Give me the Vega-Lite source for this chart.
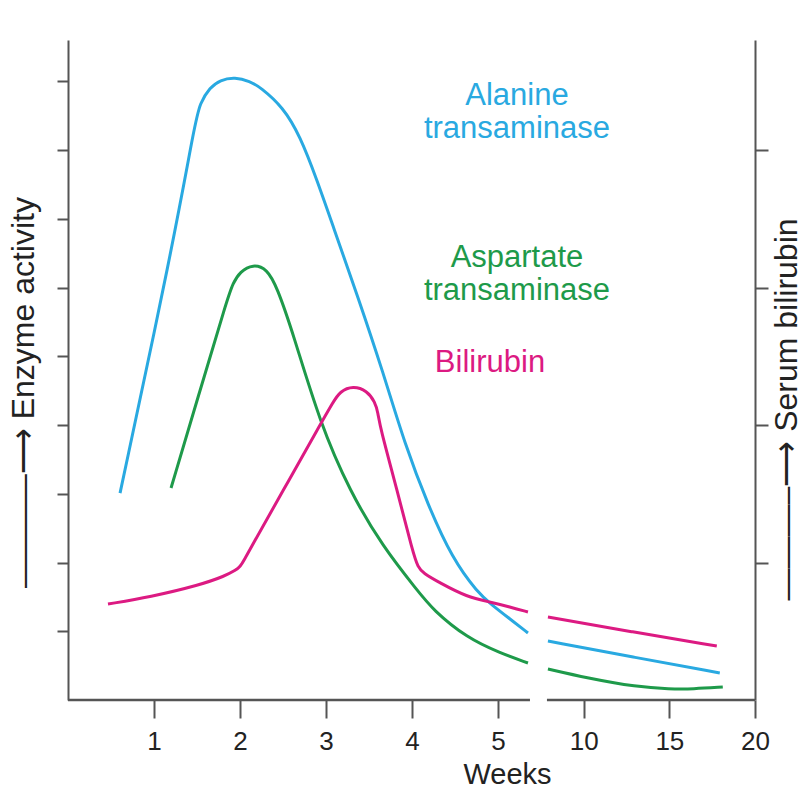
{
  "$schema": "https://vega.github.io/schema/vega-lite/v6.json",
  "width": 687,
  "height": 660,
  "autosize": {"type": "none"},
  "padding": {"left": 68, "top": 40, "right": 48, "bottom": 89},
  "background": "white",
  "config": {
    "view": {"stroke": null},
    "font": "Liberation Sans",
    "axis": {
      "domainColor": "#555555",
      "tickColor": "#555555",
      "domainWidth": 2,
      "tickWidth": 2,
      "labelColor": "#222222",
      "titleColor": "#222222",
      "labelFont": "Liberation Sans",
      "titleFont": "Liberation Sans",
      "titleFontWeight": "normal",
      "grid": false
    }
  },
  "datasets": {
    "curves": [
      {"s": "ALT", "seg": 1, "w": 0.605, "v": 3.01},
      {"s": "ALT", "seg": 1, "w": 1.209, "v": 6.545},
      {"s": "ALT", "seg": 1, "w": 1.477, "v": 8.393},
      {"s": "ALT", "seg": 1, "w": 1.535, "v": 8.684},
      {"s": "ALT", "seg": 1, "w": 1.651, "v": 8.909},
      {"s": "ALT", "seg": 1, "w": 1.767, "v": 9.018},
      {"s": "ALT", "seg": 1, "w": 1.942, "v": 9.06},
      {"s": "ALT", "seg": 1, "w": 2.116, "v": 8.999},
      {"s": "ALT", "seg": 1, "w": 2.233, "v": 8.916},
      {"s": "ALT", "seg": 1, "w": 2.5, "v": 8.625},
      {"s": "ALT", "seg": 1, "w": 2.698, "v": 8.204},
      {"s": "ALT", "seg": 1, "w": 2.895, "v": 7.564},
      {"s": "ALT", "seg": 1, "w": 3.081, "v": 6.895},
      {"s": "ALT", "seg": 1, "w": 3.372, "v": 5.862},
      {"s": "ALT", "seg": 1, "w": 3.663, "v": 4.771},
      {"s": "ALT", "seg": 1, "w": 3.919, "v": 3.709},
      {"s": "ALT", "seg": 1, "w": 4.186, "v": 2.836},
      {"s": "ALT", "seg": 1, "w": 4.465, "v": 2.065},
      {"s": "ALT", "seg": 1, "w": 4.767, "v": 1.556},
      {"s": "ALT", "seg": 1, "w": 4.93, "v": 1.382},
      {"s": "ALT", "seg": 1, "w": 5.7, "v": 1.178},
      {"s": "ALT", "seg": 1, "w": 6.749, "v": 0.975},
      {"s": "ALT", "seg": 2, "w": 7.915, "v": 0.858},
      {"s": "ALT", "seg": 2, "w": 12.872, "v": 0.625},
      {"s": "ALT", "seg": 2, "w": 17.945, "v": 0.393},
      {"s": "AST", "seg": 1, "w": 1.198, "v": 3.084},
      {"s": "AST", "seg": 1, "w": 1.523, "v": 4.451},
      {"s": "AST", "seg": 1, "w": 1.849, "v": 5.818},
      {"s": "AST", "seg": 1, "w": 1.919, "v": 6.065},
      {"s": "AST", "seg": 1, "w": 2.0, "v": 6.23},
      {"s": "AST", "seg": 1, "w": 2.151, "v": 6.34},
      {"s": "AST", "seg": 1, "w": 2.314, "v": 6.27},
      {"s": "AST", "seg": 1, "w": 2.43, "v": 6.007},
      {"s": "AST", "seg": 1, "w": 2.616, "v": 5.338},
      {"s": "AST", "seg": 1, "w": 2.93, "v": 4.029},
      {"s": "AST", "seg": 1, "w": 3.279, "v": 3.03},
      {"s": "AST", "seg": 1, "w": 3.663, "v": 2.225},
      {"s": "AST", "seg": 1, "w": 4.058, "v": 1.6},
      {"s": "AST", "seg": 1, "w": 4.244, "v": 1.309},
      {"s": "AST", "seg": 1, "w": 4.64, "v": 0.902},
      {"s": "AST", "seg": 1, "w": 5.117, "v": 0.684},
      {"s": "AST", "seg": 1, "w": 6.749, "v": 0.538},
      {"s": "AST", "seg": 2, "w": 7.915, "v": 0.451},
      {"s": "AST", "seg": 2, "w": 10.19, "v": 0.32},
      {"s": "AST", "seg": 2, "w": 13.1, "v": 0.189},
      {"s": "AST", "seg": 2, "w": 15.03, "v": 0.16},
      {"s": "AST", "seg": 2, "w": 16.37, "v": 0.16},
      {"s": "AST", "seg": 2, "w": 18.12, "v": 0.189},
      {"s": "BIL", "seg": 1, "w": 0.465, "v": 1.396},
      {"s": "BIL", "seg": 1, "w": 0.953, "v": 1.498},
      {"s": "BIL", "seg": 1, "w": 1.535, "v": 1.673},
      {"s": "BIL", "seg": 1, "w": 1.826, "v": 1.804},
      {"s": "BIL", "seg": 1, "w": 1.95, "v": 1.89},
      {"s": "BIL", "seg": 1, "w": 2.0, "v": 1.935},
      {"s": "BIL", "seg": 1, "w": 2.05, "v": 2.04},
      {"s": "BIL", "seg": 1, "w": 2.116, "v": 2.192},
      {"s": "BIL", "seg": 1, "w": 2.5, "v": 3.044},
      {"s": "BIL", "seg": 1, "w": 2.93, "v": 4.0},
      {"s": "BIL", "seg": 1, "w": 3.081, "v": 4.33},
      {"s": "BIL", "seg": 1, "w": 3.163, "v": 4.49},
      {"s": "BIL", "seg": 1, "w": 3.314, "v": 4.57},
      {"s": "BIL", "seg": 1, "w": 3.477, "v": 4.5},
      {"s": "BIL", "seg": 1, "w": 3.57, "v": 4.335},
      {"s": "BIL", "seg": 1, "w": 3.605, "v": 4.175},
      {"s": "BIL", "seg": 1, "w": 3.628, "v": 3.971},
      {"s": "BIL", "seg": 1, "w": 3.826, "v": 3.055},
      {"s": "BIL", "seg": 1, "w": 4.012, "v": 2.138},
      {"s": "BIL", "seg": 1, "w": 4.07, "v": 1.93},
      {"s": "BIL", "seg": 1, "w": 4.128, "v": 1.847},
      {"s": "BIL", "seg": 1, "w": 4.326, "v": 1.702},
      {"s": "BIL", "seg": 1, "w": 4.64, "v": 1.498},
      {"s": "BIL", "seg": 1, "w": 4.907, "v": 1.425},
      {"s": "BIL", "seg": 1, "w": 5.7, "v": 1.353},
      {"s": "BIL", "seg": 1, "w": 6.749, "v": 1.28},
      {"s": "BIL", "seg": 2, "w": 7.915, "v": 1.207},
      {"s": "BIL", "seg": 2, "w": 12.87, "v": 0.989},
      {"s": "BIL", "seg": 2, "w": 17.77, "v": 0.785}
    ],
    "labels": [
      {"s": "ALT", "text": ["Alanine", "transaminase"], "w": 6.108, "v": 8.655},
      {"s": "AST", "text": ["Aspartate", "transaminase"], "w": 6.108, "v": 6.298},
      {"s": "BIL", "text": ["Bilirubin"], "w": 4.907, "v": 4.771}
    ],
    "baseline": [
      {"a": 0, "b": 6.866},
      {"a": 7.857, "b": 20}
    ]
  },
  "resolve": {"axis": {"y": "independent"}},
  "layer": [
    {
      "data": {"name": "baseline"},
      "mark": {"type": "rule", "color": "#555555", "strokeWidth": 2.5},
      "encoding": {
        "x": {
          "field": "a", "type": "quantitative",
          "scale": {"domain": [0, 5, 20], "range": [0, 430, 687], "zero": false, "nice": false},
          "axis": {
            "orient": "bottom", "domain": false, "values": [1, 2, 3, 4, 5, 10, 15, 20],
            "tickSize": 18, "labelFontSize": 26, "labelPadding": 10, "labelFlush": false, "labelOverlap": false,
            "title": "Weeks", "titleFontSize": 29, "titleX": 439, "titleY": 83, "titleAlign": "center", "titleBaseline": "alphabetic"
          }
        },
        "x2": {"field": "b"},
        "y": {"datum": 0, "type": "quantitative", "axis": null, "scale": {"domain": [0, 9.6], "zero": false, "nice": false}}
      }
    },
    {
      "data": {"name": "curves"},
      "mark": {"type": "line", "interpolate": "basis", "strokeWidth": 3, "clip": false},
      "encoding": {
        "x": {
          "field": "w", "type": "quantitative",
          "axis": {
            "orient": "bottom", "domain": false, "values": [1, 2, 3, 4, 5, 10, 15, 20],
            "tickSize": 18, "labelFontSize": 26, "labelPadding": 10, "labelFlush": false, "labelOverlap": false,
            "title": "Weeks", "titleFontSize": 29, "titleX": 439, "titleY": 83, "titleAlign": "center", "titleBaseline": "alphabetic"
          }
        },
        "y": {
          "field": "v", "type": "quantitative",
          "axis": {
            "orient": "left", "values": [1, 2, 3, 4, 5, 6, 7, 8, 9], "labels": false, "tickSize": 11,
            "title": "———–⟶   Enzyme activity", "titleFontSize": 32, "titleAngle": 270,
            "titleX": -35, "titleY": 352, "titleAlign": "center", "titleBaseline": "alphabetic"
          }
        },
        "color": {"field": "s", "type": "nominal", "legend": null,
          "scale": {"domain": ["ALT", "AST", "BIL"], "range": ["#29a9e1", "#1e9a4a", "#dc1a82"]}},
        "detail": {"field": "seg"}
      }
    },
    {
      "data": {"name": "labels"},
      "mark": {"type": "text", "fontSize": 31, "align": "center", "baseline": "alphabetic", "lineHeight": 33},
      "encoding": {
        "x": {
          "field": "w", "type": "quantitative",
          "axis": {
            "orient": "bottom", "domain": false, "values": [1, 2, 3, 4, 5, 10, 15, 20],
            "tickSize": 18, "labelFontSize": 26, "labelPadding": 10, "labelFlush": false, "labelOverlap": false,
            "title": "Weeks", "titleFontSize": 29, "titleX": 439, "titleY": 83, "titleAlign": "center", "titleBaseline": "alphabetic"
          }
        },
        "y": {
          "field": "v", "type": "quantitative",
          "axis": {
            "orient": "right", "values": [2, 4, 6, 8], "labels": false, "tickSize": 13,
            "title": "———–⟶   Serum bilirubin", "titleFontSize": 32, "titleAngle": 270,
            "titleX": 41, "titleY": 369, "titleAlign": "center", "titleBaseline": "alphabetic"
          }
        },
        "text": {"field": "text"},
        "color": {"field": "s", "type": "nominal", "legend": null}
      }
    }
  ]
}
